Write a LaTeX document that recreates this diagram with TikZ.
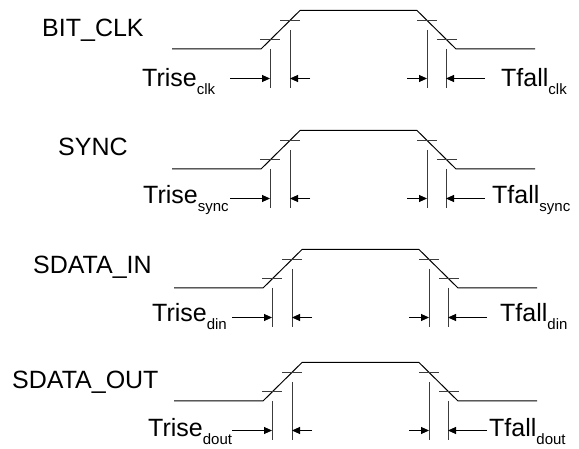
\documentclass[tikz,border=0pt]{standalone}
\usepackage{fontspec}
\setmainfont{Liberation Sans}
\usepackage{tikz}
\usetikzlibrary{arrows.meta}
\tikzstyle{timing} = [x = 1pt, y = -1pt]
\definecolor{markColor}{RGB}{60,60,60}
\tikzstyle{waveLine} = [color=black, line width=1pt, line join=miter]
\tikzstyle{markLine} = [color=markColor, line width=0.9pt]
\tikzstyle{timeArrow} = [color=black, line width=0.9pt, -{Triangle[length=8pt, width=7pt]}]
\tikzstyle{signalName} = [font=\fontsize{25}{30}\selectfont, anchor=west, inner sep=0pt]
\tikzstyle{timeLabel} = [font=\fontsize{25}{30}\selectfont, anchor=base west, inner sep=0pt]
\newcommand{\sub}[1]{\raisebox{-8pt}{\fontsize{15}{15}\selectfont #1}}
\newcommand{\waveform}[2]{\draw [waveLine] (172 + #1, #2) -- (261 + #1, #2) -- (300 + #1, #2 - 38.5) -- (417 + #1, #2 - 38.5) -- (456 + #1, #2) -- (535 + #1, #2);}
\newcommand{\levelTicks}[2]{
  \draw [markLine] (260 + #1, #2 - 9.5) -- + (20, 0);
  \draw [markLine] (280 + #1, #2 - 29) -- + (20, 0);
  \draw [markLine] (417 + #1, #2 - 29) -- + (20, 0);
  \draw [markLine] (437 + #1, #2 - 9.5) -- + (20, 0);
}
\newcommand{\edgeMarkers}[2]{
  \draw [markLine] (270 + #1, #2) -- (270 + #1, #2 + 39);
  \draw [markLine] (290 + #1, #2 - 19) -- (290 + #1, #2 + 39);
  \draw [markLine] (427 + #1, #2 - 19) -- (427 + #1, #2 + 39);
  \draw [markLine] (446 + #1, #2) -- (446 + #1, #2 + 39);
  \draw [timeArrow] (230 + #1, #2 + 29.5) -- (270 + #1, #2 + 29.5);
  \draw [timeArrow] (310 + #1, #2 + 29.5) -- (290 + #1, #2 + 29.5);
  \draw [timeArrow] (407 + #1, #2 + 29.5) -- (427 + #1, #2 + 29.5);
  \draw [timeArrow] (485 + #1, #2 + 29.5) -- (446 + #1, #2 + 29.5);
}
\newcommand{\signalRow}[2]{
  \waveform{#1}{#2}
  \levelTicks{#1}{#2}
  \edgeMarkers{#1}{#2}
}

\begin{document}
\begin{tikzpicture}[timing]
          \useasboundingbox (0, 0) rectangle (579, 449);
          \signalRow{0}{49}
          \node [signalName] (bitClk) at (42, 30) {BIT\_CLK};
          \node [timeLabel] (riseClk) at (142, 87) {Trise\sub{clk}};
          \node [timeLabel] (fallClk) at (501, 87) {Tfall\sub{clk}};

          \signalRow{0}{169}
          \node [signalName] (sync) at (58, 147) {SYNC};
          \node [timeLabel] (riseSync) at (143, 204) {Trise\sub{sync}};
          \node [timeLabel] (fallSync) at (492, 204) {Tfall\sub{sync}};

          \signalRow{2}{288}
          \node [signalName] (sdataIn) at (33, 267) {SDATA\_IN};
          \node [timeLabel] (riseDin) at (152, 322) {Trise\sub{din}};
          \node [timeLabel] (fallDin) at (500, 322) {Tfall\sub{din}};

          \signalRow{2}{401}
          \node [signalName] (sdataOut) at (12, 382) {SDATA\_OUT};
          \node [timeLabel] (riseDout) at (148, 436) {Trise\sub{dout}};
          \node [timeLabel] (fallDout) at (489, 436) {Tfall\sub{dout}};
        \end{tikzpicture}
\end{document}
